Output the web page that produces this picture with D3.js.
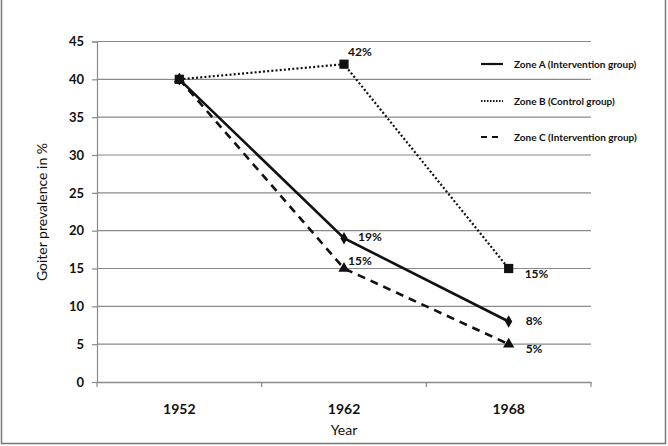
<!DOCTYPE html>
<html>
<head>
<meta charset="utf-8">
<script src="https://cdn.jsdelivr.net/npm/d3@7"></script>
<style>
  body { margin: 0; background: #fff; }
  svg { display: block; }
</style>
</head>
<body>
<svg id="chart"></svg>
<script>
// chart data
var years = ["1952", "1962", "1968"];
var zoneA = [40, 19, 8];
var zoneB = [40, 42, 15];
var zoneC = [40, 15, 5];
var yTicks = [0, 5, 10, 15, 20, 25, 30, 35, 40, 45];
var seriesNames = ["Zone A (Intervention group)", "Zone B (Control group)", "Zone C (Intervention group)"];
// labels shown next to points (null = no label)
var labelsA = [null, "19%", "8%"];
var labelsB = [null, "42%", "15%"];
var labelsC = [null, "15%", "5%"];

var width = 668;
var height = 446;
var font = "Lato, 'Open Sans', sans-serif";

var svg = d3.select("#chart")
    .attr("width", width)
    .attr("height", height);

// outer frame
svg.append("rect")
    .attr("x", 1.5).attr("y", -2)
    .attr("width", width - 4).attr("height", height - 0.5)
    .attr("fill", "#fff")
    .attr("stroke", "#777")
    .attr("stroke-width", 1.5);

var x = d3.scaleBand()
    .domain(years)
    .range([97, 591]);

var y = d3.scaleLinear()
    .domain([0, 45])
    .range([382, 41.5]);

// horizontal gridlines
svg.append("g")
    .selectAll("line")
    .data(yTicks.filter(function(d) { return d > 0; }))
    .enter().append("line")
    .attr("x1", 97).attr("x2", 591)
    .attr("y1", function(d) { return y(d); })
    .attr("y2", function(d) { return y(d); })
    .attr("stroke", "#8a8a8a")
    .attr("stroke-width", 1.2);

// y axis
var yAxis = svg.append("g")
    .attr("transform", "translate(97,0)")
    .call(d3.axisLeft(y).tickValues(yTicks).tickSize(5).tickPadding(8));
yAxis.selectAll("path, line").attr("stroke", "#8a8a8a").attr("stroke-width", 1.2);
yAxis.selectAll("text")
    .style("font-family", font)
    .style("font-size", "13px")
    .style("font-weight", "bold")
    .attr("fill", "#111");

// x axis, ticks at band edges
var xAxis = svg.append("g")
    .attr("transform", "translate(0," + y(0) + ")")
    .call(d3.axisBottom(x).tickSize(0).tickPadding(22));
xAxis.select(".domain").attr("stroke", "#8a8a8a").attr("stroke-width", 1.5);
xAxis.selectAll("text")
    .style("font-family", font)
    .style("font-size", "14px")
    .style("font-weight", "bold")
    .attr("fill", "#111");
svg.append("g")
    .selectAll("line")
    .data(years.concat(["end"]))
    .enter().append("line")
    .attr("x1", function(d, i) { return i < years.length ? x(d) : x.range()[1]; })
    .attr("x2", function(d, i) { return i < years.length ? x(d) : x.range()[1]; })
    .attr("y1", y(0)).attr("y2", y(0) + 5)
    .attr("stroke", "#8a8a8a")
    .attr("stroke-width", 1.2);

// axis titles
svg.append("text")
    .attr("x", 344).attr("y", 435)
    .attr("text-anchor", "middle")
    .style("font-family", font)
    .style("font-size", "14px")
    .attr("fill", "#111")
    .text("Year");

svg.append("text")
    .attr("transform", "translate(47,212) rotate(-90)")
    .attr("text-anchor", "middle")
    .style("font-family", font)
    .style("font-size", "14px")
    .attr("fill", "#111")
    .text("Goiter prevalence in %");

var series = [
    { values: zoneA, labels: labelsA, dash: null, width: 2.6, symbol: d3.symbolDiamond, size: 45,
      offsets: [null, [14, 3], [17, 4]] },
    { values: zoneB, labels: labelsB, dash: "2,2.2", width: 2.2, symbol: d3.symbolSquare, size: 85,
      offsets: [null, [4, -8], [16, 9]] },
    { values: zoneC, labels: labelsC, dash: "8,6", width: 2.6, symbol: d3.symbolTriangle, size: 55,
      offsets: [null, [4, -4], [17, 9]] }
];

var line = d3.line()
    .x(function(d, i) { return x(years[i]) + x.bandwidth() / 2; })
    .y(function(d) { return y(d); });

series.forEach(function(s) {
    svg.append("path")
        .datum(s.values)
        .attr("d", line)
        .attr("fill", "none")
        .attr("stroke", "#111")
        .attr("stroke-width", s.width)
        .attr("stroke-dasharray", s.dash);
});

series.forEach(function(s) {
    svg.append("g")
        .selectAll("path")
        .data(s.values)
        .enter().append("path")
        .attr("d", d3.symbol().type(s.symbol).size(s.size))
        .attr("transform", function(d, i) {
            return "translate(" + (x(years[i]) + x.bandwidth() / 2) + "," + y(d) + ")";
        })
        .attr("fill", "#111");

    svg.append("g")
        .selectAll("text")
        .data(s.values)
        .enter().append("text")
        .filter(function(d, i) { return s.labels[i] != null; })
        .attr("x", function(d) {
            var i = s.values.indexOf(d);
            return x(years[i]) + x.bandwidth() / 2 + s.offsets[i][0];
        })
        .attr("y", function(d) {
            var i = s.values.indexOf(d);
            return y(d) + s.offsets[i][1];
        })
        .style("font-family", font)
        .style("font-size", "12px")
        .style("font-weight", "bold")
        .attr("fill", "#111")
        .text(function(d) { return s.labels[s.values.indexOf(d)]; });
});

// legend
var legend = svg.append("g");
var legendY = [64, 101, 137];
series.forEach(function(s, i) {
    legend.append("line")
        .attr("x1", 481).attr("x2", 503)
        .attr("y1", legendY[i]).attr("y2", legendY[i])
        .attr("stroke", "#111")
        .attr("stroke-width", 2.2)
        .attr("stroke-dasharray", i == 1 ? "1.5,1.5" : (i == 2 ? "6,5" : null));
    legend.append("text")
        .attr("x", 514).attr("y", legendY[i] + 3.5)
        .style("font-family", font)
        .style("font-size", "10px")
        .style("font-weight", "bold")
        .attr("fill", "#111")
        .text(seriesNames[i]);
});
</script>
</body>
</html>
